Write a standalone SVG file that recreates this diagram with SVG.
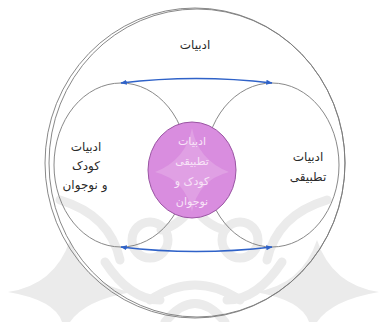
<svg xmlns="http://www.w3.org/2000/svg" width="387" height="322" viewBox="0 0 387 322">
  <style>
    .ring { fill: none; stroke: #7a7a7a; stroke-width: 0.9; }
    .lbl { font-family: "DejaVu Sans", "Noto Sans", sans-serif; font-size: 12px; fill: #2a2a2a; text-anchor: middle; direction: rtl; }
    .inner { font-family: "DejaVu Sans", "Noto Sans", sans-serif; font-size: 11px; fill: #f8e4f8; text-anchor: middle; direction: rtl; }
    .wm { fill: none; stroke: #ebebeb; stroke-width: 9; stroke-linecap: round; }
    .wmf { fill: #ebebeb; }
    .arrow { fill: none; stroke: #2f62c8; stroke-width: 1.6; }
  </style>
  <defs>
    <marker id="ah" viewBox="0 0 10 10" refX="9" refY="5" markerWidth="4" markerHeight="4" orient="auto-start-reverse">
      <path d="M0,1 L10,5 L0,9 Z" fill="#2f62c8"/>
    </marker>
  </defs>
  <rect width="387" height="322" fill="#ffffff"/>

  <g id="watermark">
    <path class="wmf" d="M8,292 Q55,285 70,240 Q85,285 132,292 Q85,300 70,322 L62,322 Q55,300 8,292 Z"/>
    <path class="wmf" d="M255,292 Q302,285 317,240 Q332,285 379,292 Q332,300 317,322 L309,322 Q302,300 255,292 Z"/>
    <path class="wm" d="M60,200 Q110,215 120,260"/>
    <path class="wm" d="M327,200 Q277,215 267,260"/>
    <circle class="wm" cx="150" cy="240" r="18"/>
    <circle class="wm" cx="240" cy="240" r="18"/>
    <path class="wm" d="M150,300 Q195,270 240,300"/>
    <path class="wm" d="M165,322 Q195,285 225,322"/>
    <path class="wm" d="M105,262 Q130,300 160,300"/>
    <path class="wm" d="M282,262 Q257,300 227,300"/>
    <path class="wm" d="M193,205 Q205,225 225,230"/>
    <path class="wm" d="M193,205 Q181,225 161,230"/>
  </g>

  <g id="outer">
    <ellipse class="ring" cx="195" cy="163" rx="150" ry="155"/>
    <ellipse class="ring" cx="197" cy="163" rx="148" ry="154" stroke="#b0b0b0"/>
    <text class="lbl" x="195" y="49">ادبیات</text>
  </g>

  <g id="left">
    <ellipse class="ring" cx="121" cy="165" rx="67" ry="82"/>
    <text class="lbl" x="86" y="151">ادبیات</text>
    <text class="lbl" x="86" y="170">کودک</text>
    <text class="lbl" x="85" y="189">و نوجوان</text>
  </g>

  <g id="right">
    <ellipse class="ring" cx="272" cy="165" rx="67" ry="82"/>
    <text class="lbl" x="308" y="161">ادبیات</text>
    <text class="lbl" x="308" y="181">تطبیقی</text>
  </g>

  <g id="center">
    <ellipse cx="192" cy="170" rx="44" ry="48" fill="#d98ddf" stroke="#9a55a3" stroke-width="1"/>
    <path d="M192,128 Q198,160 229,172 Q198,180 192,212 Q186,180 155,172 Q186,160 192,128 Z" fill="#e2a8e6" opacity="0.7"/>
    <text class="inner" x="192" y="145">ادبیات</text>
    <text class="inner" x="192" y="165">تطبیقی</text>
    <text class="inner" x="192" y="185">کودک و</text>
    <text class="inner" x="192" y="205">نوجوان</text>
  </g>

  <g id="connectors">
    <path class="arrow" d="M121,83 Q196,74 272,83" marker-start="url(#ah)" marker-end="url(#ah)"/>
    <path class="arrow" d="M121,247 Q196,256 272,247" marker-start="url(#ah)" marker-end="url(#ah)"/>
  </g>
</svg>
